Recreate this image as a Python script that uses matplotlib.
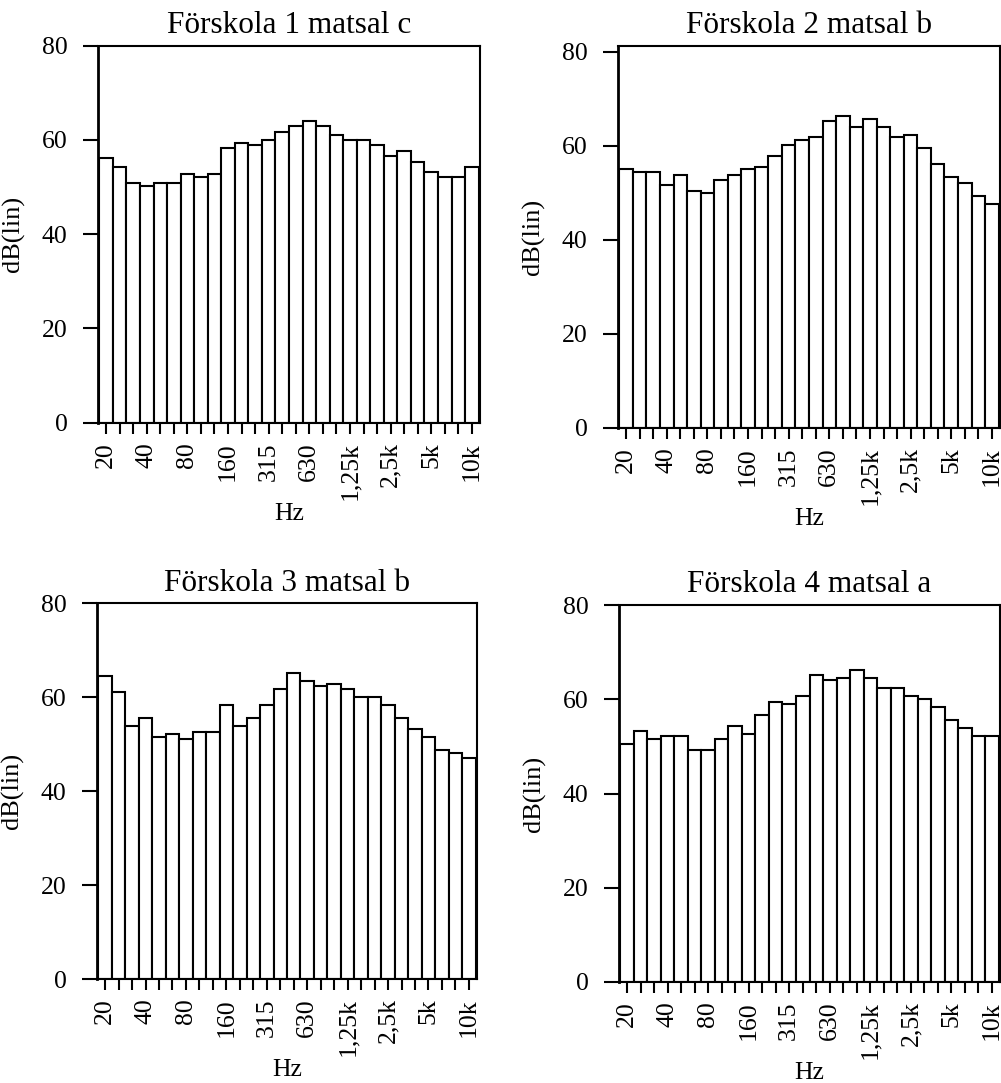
import numpy as np
import matplotlib
matplotlib.use("Agg")
import matplotlib.pyplot as plt

plt.rcParams["font.family"] = ["Liberation Serif", "DejaVu Serif"]

# Tersband 20 Hz - 10 kHz
band_labels = ["20", "", "", "40", "", "", "80", "", "", "160", "", "", "315", "", "",
               "630", "", "", "1,25k", "", "", "2,5k", "", "", "5k", "", "", "10k"]

titles = ["Förskola 1 matsal c", "Förskola 2 matsal b",
          "Förskola 3 matsal b", "Förskola 4 matsal a"]

forskola1 = [56.1, 54.3, 50.9, 50.3, 50.9, 50.9, 52.7, 52.1, 52.7, 58.3, 59.4, 58.9, 60.0, 61.7,
             62.9, 64.0, 62.9, 61.1, 60.0, 60.0, 58.9, 56.6, 57.7, 55.4, 53.2, 52.1, 52.1, 54.3]
forskola2 = [55.0, 54.4, 54.4, 51.6, 53.8, 50.4, 49.9, 52.7, 53.8, 55.0, 55.5, 57.8, 60.1, 61.2,
             61.8, 65.2, 66.3, 64.0, 65.7, 64.0, 61.8, 62.3, 59.5, 56.1, 53.3, 52.1, 49.3, 47.6]
forskola3 = [64.6, 61.2, 53.9, 55.6, 51.6, 52.2, 51.0, 52.7, 52.7, 58.4, 53.9, 55.6, 58.4, 61.8,
             65.2, 63.5, 62.4, 62.9, 61.8, 60.1, 60.1, 58.4, 55.6, 53.3, 51.6, 48.8, 48.2, 47.0]
forskola4 = [50.4, 53.2, 51.5, 52.1, 52.1, 49.2, 49.2, 51.5, 54.3, 52.7, 56.6, 59.4, 58.9, 60.6,
             65.1, 64.0, 64.5, 66.2, 64.5, 62.3, 62.3, 60.6, 60.0, 58.3, 55.5, 53.8, 52.1, 52.1]

series = [forskola1, forskola2, forskola3, forskola4]
y_top = [80, 81.3, 80, 80]

W, H = 1001, 1083
# axes placement in pixels: left, right, top, bottom
boxes = [(98, 480, 45.7, 422.7), (618, 1000, 45.7, 427.7),
         (97, 477, 603.3, 979), (619, 1000, 605, 982)]

fig = plt.figure(figsize=(W / 100, H / 100), dpi=100)

for title, vals, ytop, (l, r, t, b) in zip(titles, series, y_top, boxes):
    ax = fig.add_axes([l / W, 1 - b / H, (r - l) / W, (b - t) / H])
    x = np.arange(len(vals))
    ax.bar(x, vals, width=1.0, color="white", edgecolor="black", linewidth=1.5)
    ax.set_xlim(-0.6, len(vals) - 0.4)
    ax.set_ylim(0, ytop)
    ax.set_yticks([0, 20, 40, 60, 80])
    ax.set_xticks(x)
    ax.set_xticklabels(band_labels, rotation=90)
    ax.tick_params(axis="y", length=11, width=1.5, pad=11, labelsize=18.5)
    ax.tick_params(axis="x", length=8, width=1.5, pad=6, labelsize=18.5)
    for sp in ax.spines.values():
        sp.set_linewidth(1.5)
    ax.spines["left"].set_linewidth(2)
    ax.set_title(title, fontsize=22.5, pad=9)
    ax.set_ylabel("dB(lin)", fontsize=19)
    ax.yaxis.set_label_coords(-73 / (r - l), 0.5)
    ax.set_xlabel("Hz", fontsize=18.5, labelpad=2)

fig.savefig("out.png", dpi=100)
